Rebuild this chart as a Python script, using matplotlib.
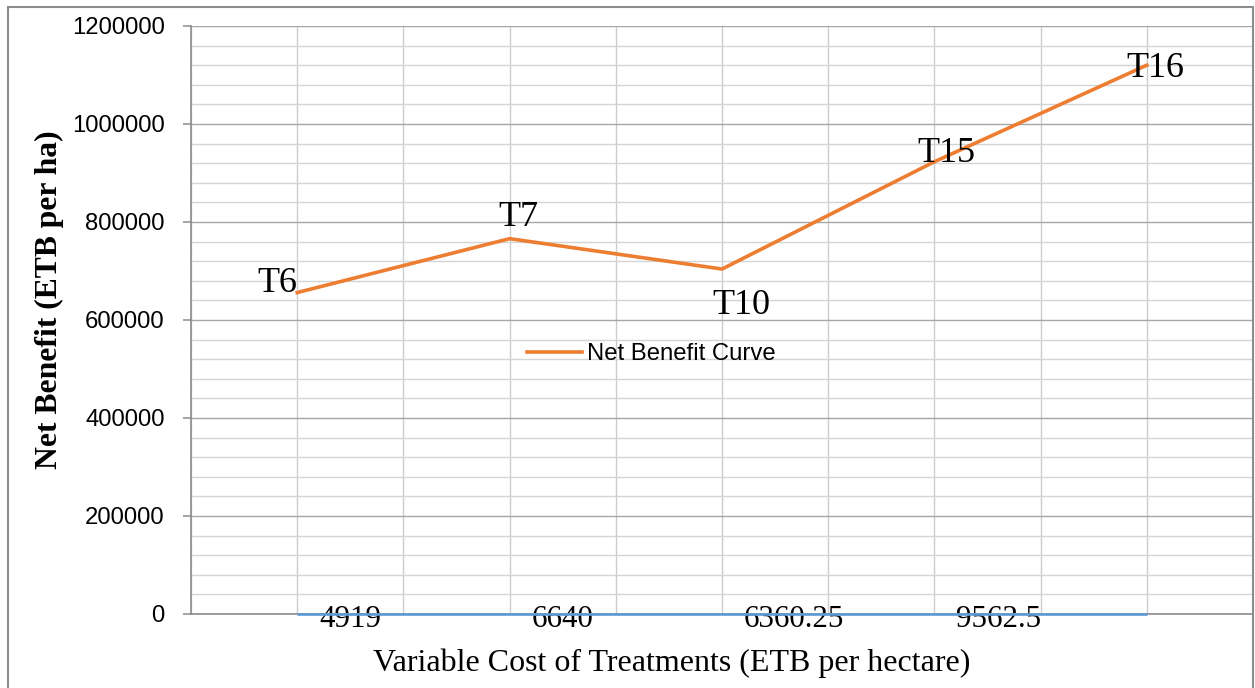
import matplotlib
matplotlib.use("Agg")
import matplotlib.pyplot as plt
import matplotlib.transforms as mtransforms
from matplotlib.ticker import MultipleLocator
from matplotlib.patches import Rectangle

# ---- data ----
categories = ["4919", "6640", "6360.25", "9562.5", ""]
treatments = ["T6", "T7", "T10", "T15", "T16"]
net_benefit = [656000, 766000, 704000, 923000, 1120000]
baseline = [0, 0, 0, 0, 0]
legend_label = "Net Benefit Curve"
xlabel = "Variable Cost of Treatments (ETB per hectare)"
ylabel = "Net Benefit (ETB per ha)"
yticks = [0, 200000, 400000, 600000, 800000, 1000000, 1200000]

W, H, DPI = 1255, 688, 100
fig = plt.figure(figsize=(W / DPI, H / DPI), dpi=DPI)
ax = fig.add_axes([191 / W, 1 - 614 / H, (1253 - 191) / W, (614 - 26) / H])

x = list(range(len(treatments)))
ax.plot(x, baseline, color="#5b9bd5", lw=1.9, zorder=3, solid_capstyle="butt",
        clip_on=False)
ax.plot(x, net_benefit, color="#ed7d31", lw=2.6, zorder=4, label=legend_label,
        solid_joinstyle="round")

ax.set_xlim(-0.5, len(treatments) - 0.5)
ax.set_ylim(0, 1200000)

# y axis
ax.set_yticks(yticks)
ax.set_yticklabels([str(v) for v in yticks], fontfamily="Liberation Sans", fontsize=17.2)
ax.yaxis.set_minor_locator(MultipleLocator(40000))
ax.tick_params(axis="y", which="major", length=6, width=1.1, color="#8c8c8c", pad=13,
               direction="out")
ax.tick_params(axis="y", which="minor", length=0)

# x axis: labels left-aligned just right of category centres
ax.set_xticks(x)
ax.set_xticklabels(categories, fontfamily="Liberation Serif", fontsize=22.3, ha="left")
ax.xaxis.set_minor_locator(MultipleLocator(0.5))
ax.tick_params(axis="x", which="both", length=0, pad=-6.4)
off = mtransforms.ScaledTranslation(22 / DPI, 0, fig.dpi_scale_trans)
for lab in ax.get_xticklabels():
    lab.set_transform(lab.get_transform() + off)

# grid
ax.grid(axis="y", which="major", color="#a6a6a6", lw=1.0, zorder=0)
ax.grid(axis="y", which="minor", color="#d4d4d4", lw=1.0, zorder=0)
ax.grid(axis="x", which="both", color="#cccccc", lw=1.0, zorder=0)
ax.set_axisbelow(True)

for s in ["top", "right"]:
    ax.spines[s].set_visible(False)
for s in ["left", "bottom"]:
    ax.spines[s].set_color("#8c8c8c")
    ax.spines[s].set_linewidth(1.2)

# point labels
offsets = [(-20, 9), (9, 21), (19, -36), (12, 8), (9, -3)]
for xi, yi, t, (dx, dy) in zip(x, net_benefit, treatments, offsets):
    ax.annotate(t, (xi, yi), xytext=(dx, dy), textcoords="offset pixels",
                ha="center", va="center", fontfamily="Liberation Serif", fontsize=26,
                zorder=5)

# legend
leg = ax.legend(loc="center left", bbox_to_anchor=((527 - 191) / 1062, (614 - 354) / 588),
                frameon=False, borderpad=0, borderaxespad=0, handlelength=2.3,
                handletextpad=0.2, prop={"family": "Liberation Sans", "size": 17.2})

# axis titles
fig.text(672 / W, 1 - 663 / H, xlabel, ha="center", va="center",
         fontfamily="Liberation Serif", fontsize=23)
fig.text(49 / W, 1 - 300 / H, ylabel, ha="center", va="center", rotation=90,
         fontfamily="Liberation Serif", fontweight="bold", fontsize=22.8)

# chart-area border
fig.patches.append(Rectangle((8 / W, -0.02), (1253 - 8) / W, (H - 7) / H + 0.02,
                             transform=fig.transFigure, fill=False,
                             edgecolor="#8c8c8c", lw=1.5, zorder=0))

fig.savefig("out.png", dpi=DPI)
